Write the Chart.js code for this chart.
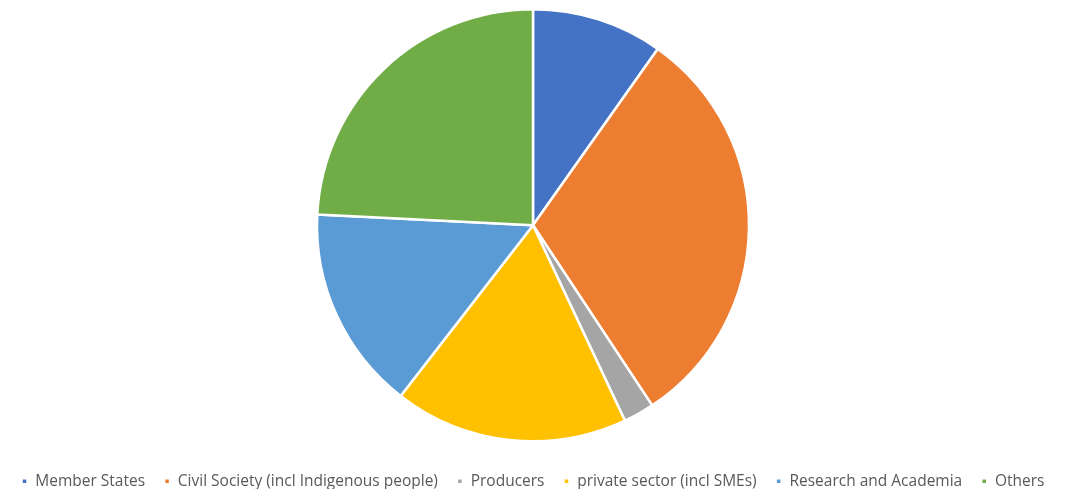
<!DOCTYPE html>
<html>
<head>
<meta charset="utf-8">
<script src="https://cdn.jsdelivr.net/npm/chart.js@4"></script>
<style>
  html, body { margin: 0; padding: 0; background: #fff; }
  #wrap { width: 1066px; height: 489px; position: relative; }
</style>
</head>
<body>
<div id="wrap"><canvas id="pie"></canvas></div>
<script>
const categories = [
  "Member States",
  "Civil Society (incl Indigenous people)",
  "Producers",
  "private sector (incl SMEs)",
  "Research and Academia",
  "Others",
];
// share of respondents (%)
const shares = [9.8, 30.9, 2.3, 17.5, 15.3, 24.2];
const sliceColors = ["#4472C4", "#ED7D31", "#A5A5A5", "#FFC000", "#5B9BD5", "#70AD47"];

// push the legend row a little lower without shrinking the pie
const legendShift = {
  id: "legendShift",
  afterLayout(chart) {
    chart.legend.top += 12;
    chart.legend.bottom += 12;
  },
};

const pieChart = new Chart(document.getElementById("pie"), {
  type: "pie",
  data: {
    labels: categories,
    datasets: [
      {
        data: shares,
        backgroundColor: sliceColors,
        borderColor: "#ffffff",
        borderWidth: 2.5,
      },
    ],
  },
  options: {
    responsive: true,
    maintainAspectRatio: false,
    animation: false,
    layout: { padding: { top: 8, bottom: 2 } },
    plugins: {
      tooltip: { enabled: false },
      legend: {
        position: "bottom",
        labels: {
          boxWidth: 6,
          boxHeight: 6,
          padding: 19,
          color: "#595959",
          font: { family: "Open Sans", size: 15.5 },
        },
      },
    },
  },
  plugins: [legendShift],
});
</script>
</body>
</html>
